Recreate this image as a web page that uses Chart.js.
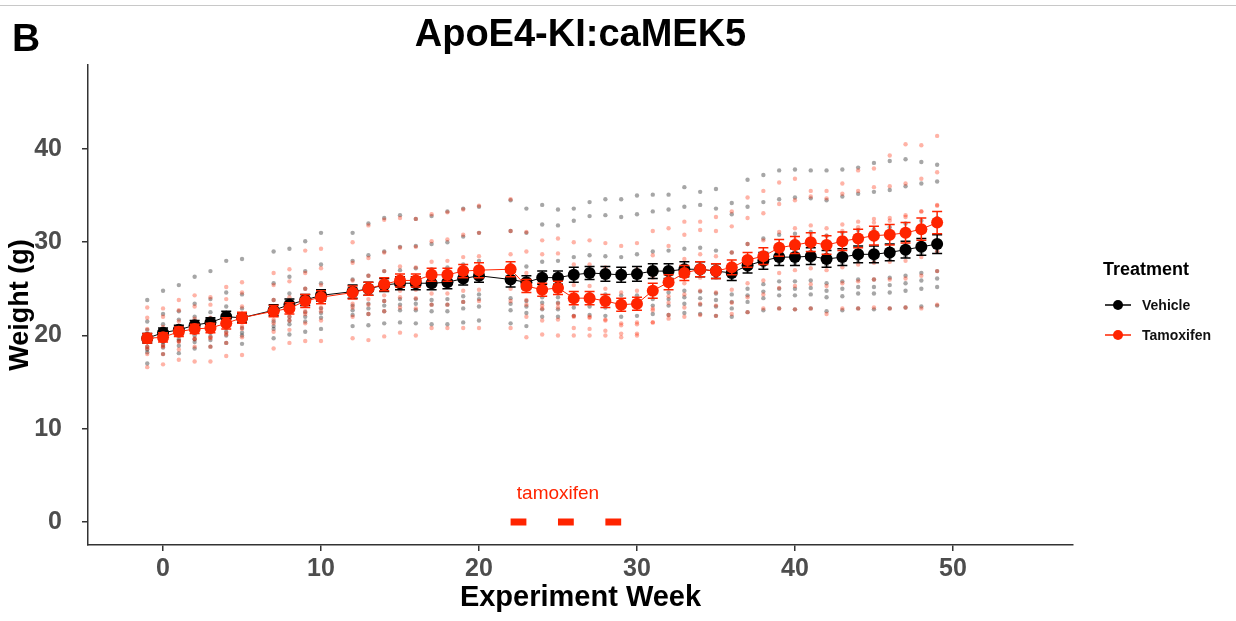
<!DOCTYPE html>
<html>
<head>
<meta charset="utf-8">
<script src="https://cdn.jsdelivr.net/npm/chart.js@4/dist/chart.umd.min.js"></script>
<style>
  html, body { margin: 0; padding: 0; background: #fff; }
  canvas { display: block; }
</style>
</head>
<body>
<canvas id="chart" width="1236" height="621"></canvas>
<script>
// Experiment weeks with weight measurements
const weeks = [-1,0,1,2,3,4,5, 7,8,9,10, 12,13,14,15,16,17,18,19,20,
  22,23,24,25,26,27,28,29,30,31,32,33,34,35,36,37,38,39,40,41,42,43,44,45,46,47,48,49];

// Group means (g)
const vehicleMean = [19.7,20.3,20.6,21.1,21.4,22.0,21.9, 22.7,23.3,23.8,24.3, 24.7,25.0,25.4,25.6,25.6,25.6,25.7,26.1,26.4,
  26.0,25.7,26.2,26.2,26.5,26.7,26.6,26.5,26.6,26.9,26.9,27.1,27.1,26.9,26.7,27.5,28.0,28.4,28.4,28.5,28.2,28.4,28.7,28.7,28.9,29.2,29.5,29.8];
const tamoxifenMean = [19.7,19.8,20.4,20.7,20.8,21.3,21.9, 22.6,22.9,23.7,24.1, 24.6,25.0,25.5,25.9,25.9,26.5,26.5,26.9,27.0,
  27.1,25.3,24.9,25.1,24.0,24.0,23.7,23.3,23.4,24.8,25.7,26.7,27.1,26.9,27.3,28.1,28.5,29.4,29.7,30.0,29.7,30.1,30.4,30.7,30.8,31.0,31.4,32.1];

// Standard error of the mean (g)
const vehicleSem = [0.5,0.5,0.5,0.5,0.5,0.6,0.5, 0.6,0.6,0.6,0.6, 0.7,0.7,0.7,0.7,0.7,0.7,0.7,0.7,0.7,
  0.8,0.7,0.7,0.7,0.8,0.7,0.8,0.8,0.8,0.8,0.8,0.8,0.8,0.8,0.8,0.8,0.9,0.9,0.9,0.9,0.9,0.9,0.9,0.9,0.9,0.9,0.9,1.0];
const tamoxifenSem = [0.5,0.5,0.5,0.5,0.5,0.6,0.6, 0.6,0.6,0.7,0.7, 0.7,0.7,0.7,0.7,0.7,0.7,0.7,0.7,0.8,
  0.8,0.7,0.7,0.7,0.7,0.7,0.7,0.7,0.7,0.8,0.8,0.8,0.8,0.8,0.8,0.8,0.9,0.9,0.9,1.0,1.0,1.0,1.0,1.0,1.1,1.1,1.2,1.2];

// Individual animals, Vehicle group (g)
const vehicleMouse1 = [23.8,24.8,25.4,26.3,26.9,28.0,28.2, 29.0,29.3,30.1,31.0, 31.0,32.0,32.6,32.9,32.5,32.8,33.3,33.6,33.8,
  34.5,33.6,34.0,33.5,33.6,34.3,34.6,34.6,35.0,35.1,35.1,35.9,35.4,35.7,34.2,36.7,37.2,37.7,37.8,37.7,37.7,37.8,38.0,38.5,38.7,38.9,38.6,38.3];
const vehicleMouse2 = [21.5,22.3,22.6,23.4,23.9,24.6,24.4, 25.6,26.3,26.9,27.6, 28.0,28.6,29.0,29.5,29.6,29.8,30.0,30.6,31.0,
  31.2,31.0,31.9,31.8,32.3,32.8,32.9,32.7,33.0,33.3,33.5,33.8,34.0,33.6,33.0,33.8,34.3,34.6,34.8,34.7,34.5,34.9,35.2,35.4,35.6,36.0,36.3,36.5];
const vehicleMouse3 = [20.6,21.2,21.7,22.0,22.5,23.1,22.9, 23.8,24.5,25.0,25.6, 26.0,26.4,26.9,27.0,27.2,27.1,27.3,27.6,28.0,
  27.6,27.4,27.9,28.0,28.4,28.6,28.5,28.4,28.7,29.0,29.1,29.3,29.4,29.1,28.9,29.8,30.4,30.8,30.9,31.1,30.7,31.0,31.3,31.4,31.6,32.0,32.3,32.6];
const vehicleMouse4 = [19.5,20.1,20.3,20.9,21.1,21.8,21.7, 22.4,23.0,23.5,24.0, 24.3,24.6,25.0,25.2,25.1,25.3,25.3,25.7,26.0,
  25.6,25.2,25.7,25.8,26.0,26.2,26.1,26.0,26.1,26.4,26.3,26.6,26.5,26.3,26.1,26.9,27.4,27.8,27.7,27.9,27.5,27.7,28.0,28.0,28.2,28.5,28.8,29.0];
const vehicleMouse5 = [18.8,19.3,19.6,20.0,20.3,20.8,20.8, 21.5,22.0,22.5,22.9, 23.2,23.4,23.7,23.9,23.9,23.8,23.9,24.2,24.4,
  24.0,23.7,24.1,24.1,24.3,24.5,24.4,24.3,24.3,24.6,24.6,24.8,24.7,24.5,24.4,25.0,25.5,25.8,25.8,25.9,25.6,25.8,26.0,26.0,26.2,26.4,26.7,26.9];
const vehicleMouse6 = [18.2,18.7,18.9,19.3,19.5,20.0,20.0, 20.7,21.2,21.5,21.9, 22.2,22.3,22.6,22.7,22.7,22.6,22.6,22.9,23.1,
  22.7,22.4,22.8,22.8,23.0,23.1,23.0,22.9,23.0,23.2,23.2,23.4,23.3,23.1,22.9,23.6,24.0,24.3,24.3,24.4,24.1,24.2,24.5,24.5,24.6,24.8,25.0,25.2];
const vehicleMouse7 = [17.0,18.0,18.1,18.6,18.8,19.2,19.1, 19.7,20.1,20.4,20.7, 21.0,21.1,21.3,21.4,21.3,21.2,21.2,21.4,21.6,
  21.3,21.0,22.0,22.0,22.1,22.2,22.1,22.0,22.1,22.3,22.2,22.4,22.3,22.1,22.0,22.5,22.7,22.9,22.8,22.9,22.6,22.7,22.9,22.8,22.9,23.0,23.1,23.2];
const vehicleMouse8 = [18.5,19.0,19.4,19.6,19.9,20.4,20.3, 21.0,21.6,22.0,22.4, 22.7,22.9,23.2,23.3,23.4,23.3,23.3,23.6,23.9,
  23.4,23.1,23.5,23.5,23.7,23.8,23.8,23.7,23.7,23.9,23.9,24.1,24.0,23.8,23.6,24.3,24.7,25.0,25.0,25.1,24.8,25.0,25.2,25.2,25.4,25.6,25.9,26.1];

// Individual animals, Tamoxifen group (g)
const tamoxifenMouse1 = [23.0,22.9,23.8,24.3,24.1,25.2,25.7, 26.7,27.1,29.1,29.3, 30.0,31.8,32.4,32.6,32.5,33.0,33.2,33.5,33.9,
  34.6,31.1,30.2,30.4,30.0,30.2,29.9,29.6,29.9,31.2,31.5,32.2,32.2,32.7,33.3,34.8,35.5,36.4,36.8,35.5,35.5,36.3,37.7,37.9,39.3,40.5,40.4,41.4];
const tamoxifenMouse2 = [21.9,22.0,22.7,23.1,23.3,23.9,24.6, 25.4,25.8,26.7,27.2, 27.8,28.3,28.9,29.4,29.5,30.1,30.3,30.8,31.0,
  31.2,29.0,28.7,28.8,27.6,27.6,27.3,26.9,27.1,28.6,29.6,30.8,31.3,31.2,31.7,32.6,33.1,34.1,34.5,34.9,34.7,35.2,35.5,35.9,36.0,36.3,36.8,37.5];
const tamoxifenMouse3 = [20.7,20.9,21.5,21.8,21.9,22.4,23.1, 23.8,24.1,25.0,25.4, 25.9,26.4,26.9,27.4,27.3,27.9,28.0,28.4,28.5,
  28.7,26.7,26.3,26.5,25.4,25.3,25.0,24.6,24.8,26.2,27.1,28.2,28.7,28.5,28.9,29.8,30.2,31.1,31.5,31.8,31.5,31.9,32.2,32.5,32.6,32.9,33.3,34.0];
const tamoxifenMouse4 = [19.9,19.9,20.5,20.9,21.0,21.4,22.0, 22.7,23.0,23.8,24.2, 24.6,25.0,25.6,26.0,25.9,26.5,26.6,26.9,27.0,
  27.1,25.2,24.8,25.0,23.9,23.8,23.6,23.2,23.3,24.7,25.6,26.6,27.0,26.8,27.1,27.9,28.3,29.1,29.4,29.7,29.4,29.8,30.1,30.3,30.4,30.6,31.0,31.7];
const tamoxifenMouse5 = [18.8,18.8,19.3,19.6,19.7,20.1,20.7, 21.3,21.6,22.3,22.6, 23.0,23.3,23.7,24.1,24.0,24.5,24.5,24.8,24.9,
  25.0,23.3,22.9,23.0,22.0,21.9,21.7,21.3,21.4,22.7,23.5,24.4,24.8,24.6,24.9,25.6,25.9,26.7,27.0,27.2,27.0,27.3,27.6,27.8,27.9,28.0,28.4,29.0];
const tamoxifenMouse6 = [18.0,18.0,18.5,18.8,18.8,19.2,19.8, 20.4,20.6,21.3,21.6, 22.0,22.3,22.6,23.0,22.9,23.3,23.3,23.6,23.7,
  23.7,22.0,21.6,21.7,20.8,20.7,20.5,20.2,20.2,21.4,22.2,23.0,23.4,23.2,23.5,24.1,24.4,25.1,25.3,25.5,25.3,25.6,25.8,26.0,26.0,26.1,26.4,26.9];
const tamoxifenMouse7 = [16.6,16.9,17.4,17.2,17.2,17.8,17.9, 18.6,19.2,19.4,19.4, 19.7,19.5,19.9,20.3,20.0,20.8,20.8,20.8,20.8,
  20.8,19.8,20.1,20.0,20.0,20.0,20.0,19.8,20.0,21.4,21.8,22.0,22.2,22.1,22.3,22.5,22.9,22.9,22.8,22.9,22.3,22.9,22.9,23.0,22.9,23.0,22.9,23.3];
const tamoxifenMouse8 = [18.6,18.9,19.4,19.7,19.8,20.3,21.0, 21.7,22.0,22.6,23.0, 23.4,23.9,24.3,24.8,24.9,25.4,25.4,25.9,26.0,
  26.0,23.8,23.2,23.4,22.1,22.0,21.6,21.1,21.2,22.9,24.2,25.6,26.2,26.2,26.8,28.0,28.6,29.8,30.3,30.8,30.7,31.2,31.6,32.1,32.3,32.7,33.3,33.9];

// Tamoxifen dosing periods (start week, end week)
const dosingStart = [22, 25, 28];
const dosingEnd = [23, 26, 29];

// Axis ticks
const xTicks = [0, 10, 20, 30, 40, 50];
const yTicks = [0, 10, 20, 30, 40];

const BLACK = '#000000';
const RED = '#ff2400';
const FONT = "'Liberation Sans', Arial, Helvetica, sans-serif";

const vehicleMice = [vehicleMouse1, vehicleMouse2, vehicleMouse3, vehicleMouse4, vehicleMouse5, vehicleMouse6, vehicleMouse7, vehicleMouse8];
const tamoxifenMice = [tamoxifenMouse1, tamoxifenMouse2, tamoxifenMouse3, tamoxifenMouse4, tamoxifenMouse5, tamoxifenMouse6, tamoxifenMouse7, tamoxifenMouse8];

const toPoints = rows => rows.flatMap(row => row.map((v, i) => ({ x: weeks[i], y: v })));
const meanPoints = means => means.map((v, i) => ({ x: weeks[i], y: v }));

const dosingPoints = [];
dosingStart.forEach((s, i) => {
  dosingPoints.push({ x: s, y: 0 }, { x: dosingEnd[i], y: 0 }, { x: dosingEnd[i] + 0.5, y: null });
});

// Error bars drawn just before the mean series they belong to
const errorBarPlugin = {
  id: 'errorBars',
  beforeDatasetDraw(chart, args) {
    const ds = chart.data.datasets[args.index];
    if (!ds.sem) return;
    const xs = chart.scales.x, ys = chart.scales.y;
    const ctx = chart.ctx;
    ctx.save();
    ctx.strokeStyle = ds.borderColor;
    ctx.lineWidth = 1.5;
    ds.data.forEach((p, i) => {
      const x = xs.getPixelForValue(p.x);
      const yTop = ys.getPixelForValue(p.y + ds.sem[i]);
      const yBot = ys.getPixelForValue(p.y - ds.sem[i]);
      ctx.beginPath();
      ctx.moveTo(x, yTop); ctx.lineTo(x, yBot);
      ctx.moveTo(x - 5, yTop); ctx.lineTo(x + 5, yTop);
      ctx.moveTo(x - 5, yBot); ctx.lineTo(x + 5, yBot);
      ctx.stroke();
    });
    ctx.restore();
  }
};

// Titles, legend and annotation
const textPlugin = {
  id: 'texts',
  afterDraw(chart) {
    const ctx = chart.ctx;
    const area = chart.chartArea;
    const xs = chart.scales.x, ys = chart.scales.y;
    ctx.save();

    ctx.strokeStyle = '#c8c8c8';
    ctx.lineWidth = 1;
    ctx.beginPath(); ctx.moveTo(0, 5.5); ctx.lineTo(1236, 5.5); ctx.stroke();

    ctx.fillStyle = '#000';
    ctx.textBaseline = 'alphabetic';
    ctx.textAlign = 'left';
    ctx.font = 'bold 39px ' + FONT;
    ctx.fillText('B', 12, 51);

    ctx.textAlign = 'center';
    ctx.font = 'bold 38px ' + FONT;
    ctx.fillText('ApoE4-KI:caMEK5', (area.left + area.right) / 2, 46);

    ctx.textBaseline = 'middle';
    ctx.font = 'bold 29px ' + FONT;
    ctx.fillText('Experiment Week', (area.left + area.right) / 2, 598);

    ctx.save();
    ctx.translate(21, (area.top + area.bottom) / 2);
    ctx.rotate(-Math.PI / 2);
    ctx.font = 'bold 27px ' + FONT;
    ctx.fillText('Weight (g)', 0, 0);
    ctx.restore();

    // annotation over the dosing bars
    ctx.fillStyle = RED;
    ctx.font = '19px ' + FONT;
    ctx.fillText('tamoxifen', xs.getPixelForValue(25), ys.getPixelForValue(3));

    // legend
    ctx.textAlign = 'left';
    ctx.fillStyle = '#000';
    ctx.font = 'bold 18px ' + FONT;
    ctx.fillText('Treatment', 1103, 270);
    const items = [['Vehicle', BLACK, 305], ['Tamoxifen', RED, 335]];
    items.forEach(([label, color, y]) => {
      ctx.strokeStyle = color;
      ctx.lineWidth = 1.5;
      ctx.beginPath(); ctx.moveTo(1105, y); ctx.lineTo(1131, y); ctx.stroke();
      ctx.fillStyle = color;
      ctx.beginPath(); ctx.arc(1118, y, 5, 0, Math.PI * 2); ctx.fill();
      ctx.fillStyle = '#111';
      ctx.font = 'bold 14px ' + FONT;
      ctx.fillText(label, 1142, y + 1);
    });
    ctx.restore();
  }
};

const axisCommon = {
  type: 'linear',
  border: { display: true, color: '#333333', width: 1.5 },
  grid: { display: true, drawOnChartArea: false, drawTicks: true, tickLength: 6, color: '#333333', lineWidth: 1.5 },
  ticks: { color: '#4d4d4d', font: { family: FONT, size: 25, weight: 'bold' } }
};

new Chart(document.getElementById('chart'), {
  type: 'scatter',
  data: {
    datasets: [
      {
        label: 'Vehicle animals',
        data: toPoints(vehicleMice),
        backgroundColor: 'rgba(0,0,0,0.35)',
        borderWidth: 0,
        pointRadius: 2.2,
        order: 6
      },
      {
        label: 'Tamoxifen animals',
        data: toPoints(tamoxifenMice),
        backgroundColor: 'rgba(255,36,0,0.35)',
        borderWidth: 0,
        pointRadius: 2.2,
        order: 5
      },
      {
        type: 'line',
        label: 'Vehicle',
        data: meanPoints(vehicleMean),
        sem: vehicleSem,
        borderColor: BLACK,
        backgroundColor: BLACK,
        borderWidth: 1,
        pointRadius: 6,
        pointBorderWidth: 0,
        order: 4
      },
      {
        type: 'line',
        label: 'Tamoxifen',
        data: meanPoints(tamoxifenMean),
        sem: tamoxifenSem,
        borderColor: RED,
        backgroundColor: RED,
        borderWidth: 1,
        pointRadius: 6,
        pointBorderWidth: 0,
        order: 3
      },
      {
        type: 'line',
        label: 'Dosing',
        data: dosingPoints,
        borderColor: RED,
        borderWidth: 7,
        borderCapStyle: 'butt',
        pointRadius: 0,
        spanGaps: false,
        order: 1
      }
    ]
  },
  options: {
    responsive: false,
    devicePixelRatio: 1,
    animation: false,
    events: [],
    layout: { padding: { left: 0, top: 65, right: 163, bottom: 0 } },
    plugins: { legend: { display: false }, tooltip: { enabled: false }, title: { display: false } },
    scales: {
      x: Object.assign({}, axisCommon, {
        min: -4.75, max: 57.6,
        ticks: Object.assign({}, axisCommon.ticks, { padding: 3, maxRotation: 0 }),
        afterBuildTicks: s => { s.ticks = xTicks.map(v => ({ value: v })); },
        afterFit: s => { s.height = 76; }
      }),
      y: Object.assign({}, axisCommon, {
        min: -2.47, max: 49.0,
        ticks: Object.assign({}, axisCommon.ticks, { padding: 20 }),
        afterBuildTicks: s => { s.ticks = yTicks.map(v => ({ value: v })); },
        afterFit: s => { s.width = 88; }
      })
    }
  },
  plugins: [errorBarPlugin, textPlugin]
});
</script>
</body>
</html>
